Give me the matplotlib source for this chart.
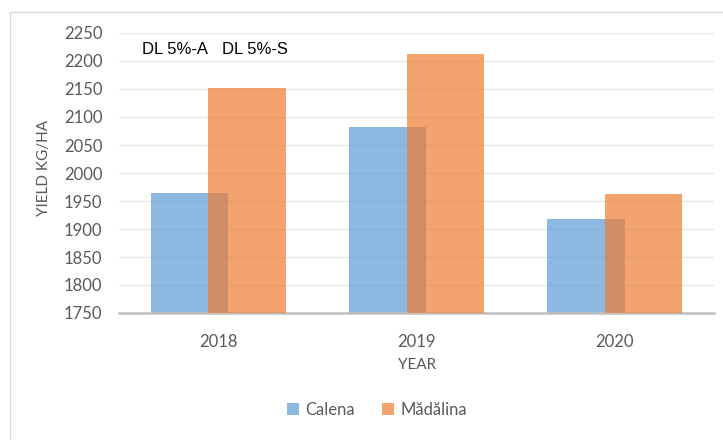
import matplotlib.pyplot as plt
import numpy as np
from matplotlib.patches import Rectangle, Patch

years = ["2018", "2019", "2020"]
calena = [1965, 2082, 1918]
madalina = [2152, 2212, 1962]
series_names = ["Calena", "Mădălina"]
annot_labels = ["DL 5%-A", "DL 5%-S"]

W, H = 723, 440
fig = plt.figure(figsize=(W / 100, H / 100), dpi=100)

# outer chart border (Excel style)
fig.add_artist(Rectangle((10 / W, -0.1), 1.2, 1.1 - 12 / H, transform=fig.transFigure,
                         fill=False, edgecolor="#D9D9D9", linewidth=1.0))

ax = fig.add_axes([119 / W, (H - 313) / H, 595 / W, 280 / H])

blue = "#5B9BD5"
orange = "#ED7D31"
x = np.arange(len(years))
width = 0.39
off = 0.146
ax.bar(x - off, calena, width, color=blue, alpha=0.7, zorder=2)
ax.bar(x + off, madalina, width, color=orange, alpha=0.7, zorder=3)

ax.set_xlim(-0.5, 2.5)
ax.set_ylim(1750, 2250)
ax.set_yticks(np.arange(1750, 2251, 50))
ax.set_xticks(x)
ax.set_xticklabels(years)
ax.grid(axis="y", color="#E8E8E8", linewidth=1.0, zorder=0)
ax.set_axisbelow(True)
for s in ["top", "right", "left"]:
    ax.spines[s].set_visible(False)
ax.spines["bottom"].set_color("#BFBFBF")
ax.spines["bottom"].set_linewidth(1.8)
ax.tick_params(length=0, labelsize=12, labelcolor="#595959")
ax.tick_params(axis="y", pad=12)
ax.tick_params(axis="x", pad=15)
for lab in ax.get_xticklabels() + ax.get_yticklabels():
    lab.set_family("Lato")

fig.text(44 / W, 1 - 168 / H, "YIELD KG/HA", rotation=90, ha="center", va="center",
         fontsize=11, color="#595959", family="Lato")
fig.text(417 / W, 1 - 365 / H, "YEAR", ha="center", va="center",
         fontsize=11, color="#595959", family="Lato")

fig.text(142 / W, 1 - 49 / H, annot_labels[0], ha="left", va="center",
         fontsize=12, color="#000000", family="Liberation Sans")
fig.text(222 / W, 1 - 49 / H, annot_labels[1], ha="left", va="center",
         fontsize=12, color="#000000", family="Liberation Sans")

handles = [Patch(facecolor=blue, alpha=0.7), Patch(facecolor=orange, alpha=0.7)]
leg = fig.legend(handles, series_names, loc="center", bbox_to_anchor=(377 / W, 1 - 410 / H),
                 ncol=2, frameon=False, handlelength=0.7, handleheight=0.7,
                 handletextpad=0.4, columnspacing=1.6,
                 prop={"family": "Lato", "size": 12})
for t in leg.get_texts():
    t.set_color("#595959")

fig.savefig("out.png", dpi=100)
